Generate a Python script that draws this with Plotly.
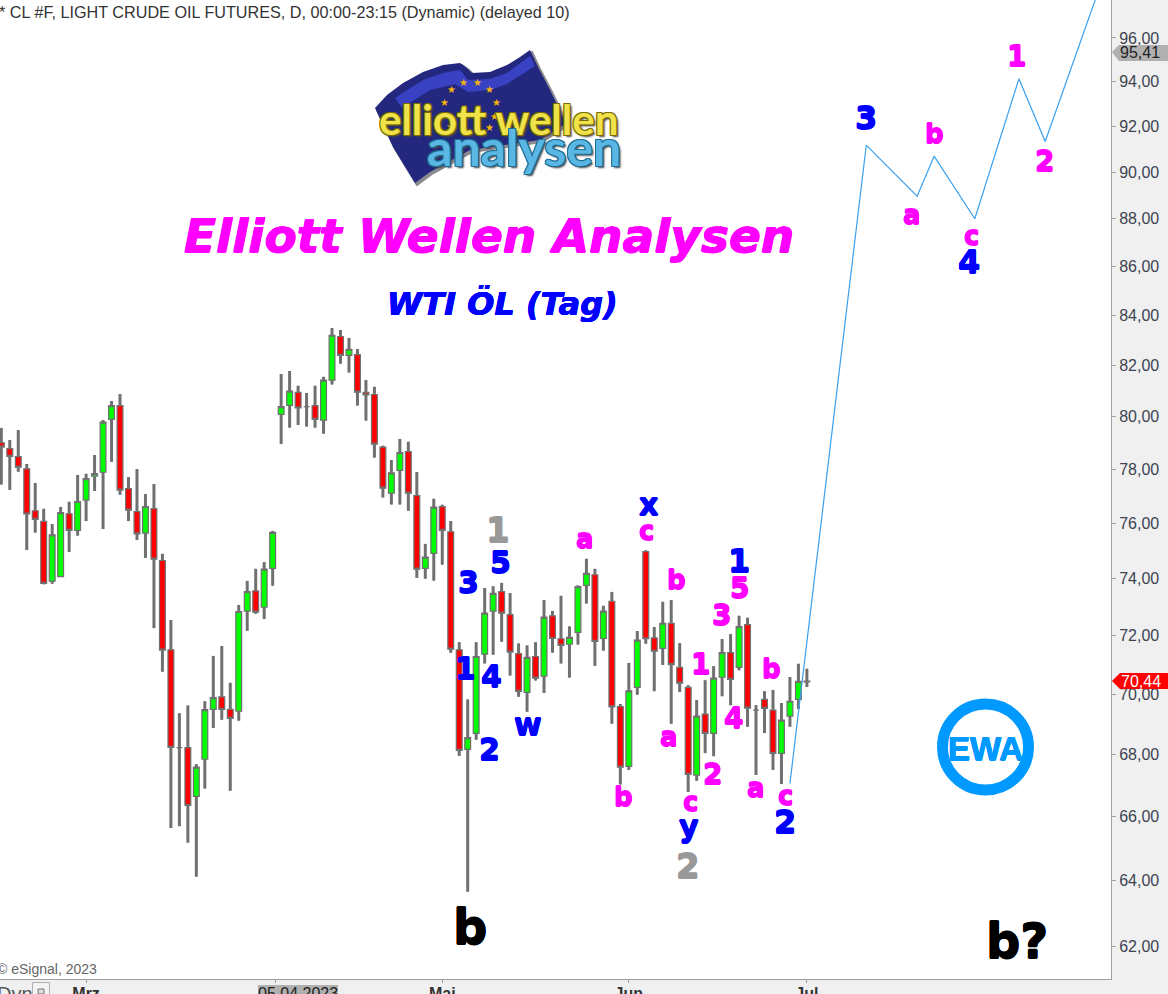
import math
import plotly.graph_objects as go

opens = [79.01,78.78,78.48,78.02,76.46,76.07,73.91,74.07,76.35,75.74,76.85,77.74,77.89,79.90,80.43,77.28,76.43,75.64,76.54,74.65,71.51,68.22,68.22,66.64,67.84,69.49,69.91,69.49,69.43,72.85,73.57,72.99,74.37,
80.09,80.44,80.94,80.39,80.43,79.87,81.42,83.15,82.40,82.43,80.94,80.86,78.84,77.11,77.96,78.67,77.02,74.37,74.91,76.61,75.69,71.51,68.16,68.69,71.36,72.85,73.54,72.73,71.38,70.06,71.28,70.61,72.69,71.89,71.70,72.11,73.76,74.14,71.90,73.20,69.58,67.61,70.23,74.97,71.92,71.56,72.43,70.91,70.23,67.32,69.33,68.69,70.57,71.41,70.91,72.38,69.46,69.82,69.46,68.03,69.26,69.82,70.41]
closes = [78.84,78.49,78.08,76.34,76.14,73.83,75.58,76.39,75.74,76.80,77.65,77.84,79.79,80.43,77.22,76.48,75.61,76.61,74.70,71.50,68.23,68.22,66.35,67.58,69.48,69.88,69.49,69.19,72.84,73.54,72.82,74.34,75.67,
80.39,80.99,80.34,80.39,79.90,81.42,83.20,82.40,82.64,80.95,80.84,78.95,77.30,77.87,78.63,77.11,74.34,74.77,76.59,75.74,71.53,68.13,68.55,71.28,72.78,73.48,72.78,71.43,70.09,71.25,70.54,72.64,71.90,71.66,71.94,73.72,74.19,71.80,72.85,69.57,67.58,70.11,71.84,71.89,71.46,72.43,71.00,70.37,67.35,69.26,68.69,70.54,71.41,70.50,72.31,69.53,69.46,69.52,68.03,69.13,69.76,70.43,70.44]
highs = [79.57,79.11,79.49,78.20,77.49,76.53,75.97,76.60,76.79,77.79,77.83,78.54,79.87,80.61,80.88,77.71,78.01,77.08,77.45,74.89,72.54,69.36,69.62,67.68,69.76,71.30,71.64,70.38,73.07,73.92,74.35,74.59,75.72,
81.66,81.78,81.20,80.92,81.20,81.55,83.49,83.41,83.09,82.65,81.43,81.16,78.89,78.35,79.15,79.04,77.90,75.25,76.90,76.68,76.08,71.77,69.82,71.77,73.67,73.73,73.85,73.49,71.73,71.66,71.77,73.24,72.86,73.39,72.32,73.76,74.71,74.35,73.04,73.53,69.67,71.06,72.16,75.02,72.30,73.18,73.24,71.74,70.30,69.80,70.47,70.95,71.88,72.05,72.69,72.62,69.63,70.10,70.14,69.70,70.58,71.03,70.86]
lows = [77.43,77.23,77.91,75.03,75.66,73.80,73.82,74.07,74.96,75.55,76.08,77.19,75.79,78.28,77.05,76.08,75.39,74.74,72.26,70.76,65.63,65.69,65.17,64.11,66.89,68.87,69.14,66.82,69.11,72.17,72.76,72.58,73.75,
78.96,79.58,79.68,79.62,79.58,79.35,81.25,82.07,81.72,80.43,79.85,78.44,76.95,76.69,76.69,76.46,74.03,74.00,73.93,74.50,71.41,67.95,63.65,68.48,71.04,71.34,71.79,70.63,69.91,69.41,70.46,70.04,71.41,71.04,70.56,71.69,73.12,70.96,71.48,69.01,67.02,67.49,69.98,71.72,70.10,70.99,69.01,70.07,66.78,67.14,68.04,67.94,69.93,69.63,70.81,68.91,67.33,68.70,67.49,67.04,68.91,69.50,70.24]

projection_x = [93.0, 102.0, 108.0, 110.0, 114.8, 120.0, 123.1, 129.2]
projection_y = [67.05, 91.17, 88.96, 90.69, 88.0, 94.13, 91.33, 98.0]

y_ticks = [62, 64, 66, 68, 70, 72, 74, 76, 78, 80, 82, 84, 86, 88, 90, 92, 94, 96]
y_labels = ["62,00","64,00","66,00","68,00","70,00","72,00","74,00","76,00","78,00","80,00","82,00","84,00","86,00","88,00","90,00","92,00","94,00","96,00"]
month_ticks = [10, 52, 74, 95]
month_labels = ["<b>Mrz</b>", "<b>Mai</b>", "<b>Jun</b>", "<b>Jul</b>"]
minor_ticks = [10, 32.3, 52, 74, 95]

W, H = 1111.0, 979.0
RED, GREEN, GRAY = "#ff0000", "#00ff00", "#707070"
BLUE, MAG, SILVER = "#0000ff", "#ff00ff", "#999999"


def px(x):
    return x / W


def py(y):
    return 1 - y / H


def P(points, close=True):
    s = "M" + " L".join(f"{px(a):.5f},{py(b):.5f}" for a, b in points)
    return s + (" Z" if close else "")


annotations = []
shapes = []


def fat(c, d=0.6):
    return f"{d}px 0 0 {c},-{d}px 0 0 {c},0 {d}px 0 {c},0 -{d}px 0 {c}"


def T(text, x, y, size, color, family="DejaVu Sans", bold=True, italic=False, xanchor="center", bg=None, shadow=None):
    font = dict(family=family, size=size, color=color, weight="bold" if bold else "normal",
                style="italic" if italic else "normal")
    if shadow:
        font["shadow"] = shadow
    a = dict(text=text, x=px(x), y=py(y), xref="paper", yref="paper", showarrow=False, font=font,
             xanchor=xanchor, yanchor="middle", borderpad=0, borderwidth=0)
    if bg:
        a["bgcolor"] = bg
    annotations.append(a)


def S(points, fill, line=None, lw=0):
    shapes.append(dict(type="path", path=P(points), xref="paper", yref="paper", fillcolor=fill,
                       line=dict(color=line or fill, width=lw), layer="above"))


fig = go.Figure()
fig.add_trace(go.Candlestick(
    x=list(range(len(opens))), open=opens, high=highs, low=lows, close=closes,
    increasing=dict(fillcolor=GREEN, line=dict(color=GRAY, width=1.2)),
    decreasing=dict(fillcolor=RED, line=dict(color=GRAY, width=1.2)),
    whiskerwidth=0, showlegend=False, hoverinfo="skip"))

wx, wy = [], []
for i, (o, h, l, c) in enumerate(zip(opens, highs, lows, closes)):
    wx += [i, i, None, i, i, None]
    wy += [h, max(o, c), None, min(o, c), l, None]
fig.add_trace(go.Scatter(x=wx, y=wy, mode="lines", line=dict(color=GRAY, width=3), hoverinfo="skip", showlegend=False))
fig.add_trace(go.Scatter(x=projection_x, y=projection_y, mode="lines", line=dict(color="#3aa0f0", width=1.2), hoverinfo="skip", showlegend=False))

# logo flag
flag = [(375, 108), (387, 95), (403, 83), (423, 72), (443, 65), (460, 63), (467, 68), (472, 73), (490, 72), (507, 65), (520, 57), (530, 50), (538, 67), (550, 90), (563, 117), (567, 123), (540, 140), (470, 150), (430, 172), (415, 183), (393, 147)]
S([(a + 2, b + 2) for a, b in flag], "#8a8a90", "#8a8a90", 2)
S(flag, "#23287e")
S([(395, 98), (423, 80), (443, 73), (460, 70), (468, 80), (490, 79), (507, 73), (530, 56), (535, 66), (507, 84), (490, 90), (468, 92), (455, 84), (430, 90), (402, 108)], "#3a42c4")
for sx, sy in [(463, 83), (477, 83), (451, 90), (489, 90), (444, 102), (496, 102), (494, 117), (489, 128), (450, 126)]:
    T("★", sx, sy, 10, "#f5b50a", family="DejaVu Sans", bold=False)
outline_y = "-1px -1px 0 #7a6c00,1px -1px 0 #7a6c00,-1px 1px 0 #7a6c00,1px 1px 0 #7a6c00,2px 2px 2px #444"
outline_b = "-1px -1px 0 #1f6f96,1px -1px 0 #1f6f96,-1px 1px 0 #1f6f96,1px 1px 0 #1f6f96,2px 2px 2px #444"
T("elliott wellen", 498, 119, 42, "#efe24a", family="Lato", shadow=outline_y)
T("analysen", 524, 147, 50, "#5ab6e2", family="Lato", shadow=outline_b)

# titles
T("Elliott Wellen Analysen", 489, 236, 47, MAG, italic=True, shadow=fat(MAG, 0.5))
T("WTI ÖL (Tag)", 502, 304, 32, BLUE, italic=True, shadow=fat(BLUE, 0.4))
T("* CL #F, LIGHT CRUDE OIL FUTURES, D, 00:00-23:15 (Dynamic) (delayed 10)", -1, 12, 16.2, "#333333", family="Liberation Sans", bold=False, xanchor="left")
T("© eSignal, 2023", -3, 969, 14, "#666666", family="Liberation Sans", bold=False, xanchor="left")

labels = [
    ("b", 470, 927, 48, "#000000"), ("b?", 1017, 941, 48, "#000000"),
    ("3", 468, 582, 30, BLUE), ("5", 500, 562, 30, BLUE), ("1", 465, 668, 30, BLUE), ("4", 491, 676, 30, BLUE),
    ("2", 489, 749, 30, BLUE), ("w", 528, 724, 30, BLUE), ("x", 648, 504, 30, BLUE), ("1", 739, 561, 32, BLUE),
    ("y", 689, 826, 30, BLUE), ("2", 785, 822, 32, BLUE), ("3", 866, 118, 32, BLUE), ("4", 969, 262, 32, BLUE),
    ("1", 498, 530, 34, SILVER), ("2", 688, 866, 34, SILVER),
    ("a", 585, 539, 26, MAG), ("c", 646, 531, 26, MAG), ("b", 677, 580, 26, MAG), ("5", 739, 588, 28, MAG),
    ("3", 721, 615, 28, MAG), ("1", 700, 664, 28, MAG), ("4", 733, 718, 28, MAG), ("a", 669, 737, 26, MAG),
    ("2", 712, 774, 28, MAG), ("b", 623, 797, 26, MAG), ("c", 690, 802, 26, MAG), ("b", 771, 669, 26, MAG),
    ("a", 756, 788, 26, MAG), ("c", 785, 796, 26, MAG), ("a", 912, 215, 26, MAG), ("b", 934, 134, 26, MAG),
    ("c", 971, 236, 26, MAG), ("1", 1016, 57, 28, MAG), ("2", 1044, 161, 28, MAG),
]
for t, x, y, s, c in labels:
    T(t, x, y, s, c, shadow=fat(c))

# EWA badge
shapes.append(dict(type="circle", xref="paper", yref="paper", x0=px(942.5), x1=px(1028.5), y0=py(790), y1=py(704),
                   line=dict(color="#0099ff", width=11), fillcolor="rgba(0,0,0,0)", layer="above"))
T("EWA", 985, 748, 33, "#0099ff", family="Liberation Sans", shadow=fat("#0099ff", 0.5))

# last-value tags
S([(1112, 52), (1119, 45), (1168, 45), (1168, 61), (1119, 61)], "#b0b0b0")
T("95,41", 1120, 53, 16, "#222222", family="Liberation Sans", bold=False, xanchor="left")
S([(1112, 681), (1120, 673), (1168, 673), (1168, 689), (1120, 689)], "#ff0000")
T("70,44", 1121, 681, 16, "#ffffff", family="Liberation Sans", bold=False, xanchor="left")

# bottom strip
T("05.04.2023", 298, 993, 16, "#222222", family="Liberation Sans", bold=False, bg="#b0b0b0")
T("Dyn", -3, 994, 20, "#555555", family="Liberation Sans", bold=False, xanchor="left")
shapes.append(dict(type="rect", xref="paper", yref="paper", x0=px(32.5), x1=px(49.5), y0=py(995), y1=py(982.5),
                   line=dict(color="#b0b0b0", width=1), fillcolor="#f4f4f4", layer="above"))
shapes.append(dict(type="rect", xref="paper", yref="paper", x0=px(38), x1=px(44), y0=py(994), y1=py(989),
                   line=dict(color="#777777", width=1), fillcolor="#dddddd", layer="above"))

fig.update_layout(
    width=1168, height=994, autosize=False,
    margin=dict(l=0, r=57, t=0, b=15, pad=0),
    paper_bgcolor="#f0f0f0", plot_bgcolor="#ffffff",
    showlegend=False, hovermode=False, boxgap=0.02,
    annotations=annotations, shapes=shapes,
    xaxis=dict(range=[-0.153, 130.86], rangeslider=dict(visible=False), showgrid=False, zeroline=False, automargin=False,
               showline=True, linecolor="#a0a0a0", linewidth=1,
               tickmode="array", tickvals=month_ticks, ticktext=month_labels, ticklen=0,
               tickfont=dict(family="Liberation Sans", size=16, color="#333333"),
               minor=dict(tickmode="array", tickvals=minor_ticks, ticklen=3, tickcolor="#a0a0a0", ticks="outside", showgrid=False)),
    yaxis=dict(type="log", range=[math.log10(61.03), math.log10(97.77)], side="right", showgrid=False, zeroline=False, automargin=False,
               showline=True, linecolor="#a0a0a0", linewidth=1,
               tickmode="array", tickvals=y_ticks, ticktext=y_labels, ticks="outside", ticklen=4, tickcolor="#a0a0a0",
               tickfont=dict(family="Liberation Sans", size=16, color="#3c4450")),
)

fig.write_html("out.html", config={"displayModeBar": False},
               post_script="document.body.style.margin='0';document.body.style.overflow='hidden';")
